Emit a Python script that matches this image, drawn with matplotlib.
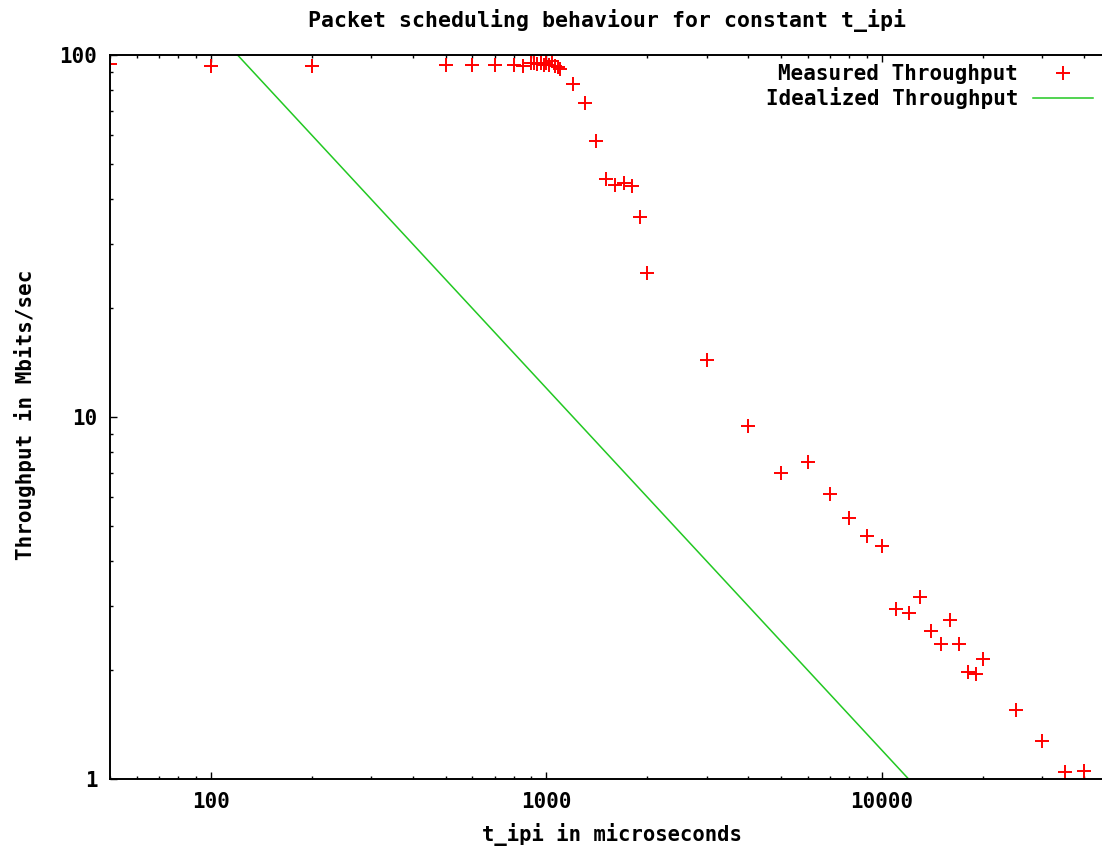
import numpy as np
import matplotlib
matplotlib.use("Agg")
import matplotlib.pyplot as plt
from matplotlib.ticker import LogLocator, FixedLocator, FixedFormatter, NullFormatter

# Measured throughput (t_ipi in microseconds, throughput in Mbits/sec)
t_ipi = [50, 100, 200, 500, 600, 700, 800, 850,
         900, 920, 940, 960, 980, 1000, 1020, 1040, 1060, 1080, 1100,
         1200, 1300, 1400, 1500, 1600, 1700, 1800, 1900, 2000,
         3000, 4000, 5000, 6000, 7000, 8000, 9000, 10000,
         11000, 12000, 13000, 14000, 15000, 16000, 17000, 18000, 19000, 20000,
         25000, 30000, 35000, 40000]
throughput = [94.4, 93.3, 93.3, 94.0, 94.0, 94.0, 94.0, 93.5,
              95.0, 95.0, 94.5, 95.0, 94.0, 95.0, 94.0, 96.0, 93.0, 92.5, 91.5,
              83.2, 73.6, 57.7, 45.4, 43.8, 44.3, 43.4, 35.6, 25.0,
              14.4, 9.44, 7.02, 7.52, 6.12, 5.26, 4.69, 4.39,
              2.94, 2.88, 3.18, 2.57, 2.36, 2.75, 2.36, 1.97, 1.95, 2.14,
              1.55, 1.276, 1.043, 1.052]

# Idealized throughput line (straight on log-log axes)
ideal_t = [120, 1200, 12000]
ideal_tp = [100, 10, 1]

FONT = "DejaVu Sans Mono"

fig = plt.figure(figsize=(11.02, 8.49), dpi=100)
W, H = 1102, 849
ax = fig.add_axes([110 / W, (H - 779) / H, (1116.5 - 110) / W, (779 - 55) / H])

ax.plot(t_ipi, throughput, linestyle="none", marker="+", color="#ff0000",
        markersize=9.5, markeredgewidth=1.4, label="Measured Throughput")
ax.plot(ideal_t, ideal_tp, color="#22c822", linewidth=1.1,
        label="Idealized Throughput")

ax.set_xscale("log")
ax.set_yscale("log")
ax.set_xlim(50, 50000)
ax.set_ylim(1, 100)

ax.xaxis.set_major_locator(FixedLocator([100, 1000, 10000]))
ax.xaxis.set_major_formatter(FixedFormatter(["100", "1000", "10000"]))
ax.xaxis.set_minor_locator(LogLocator(base=10, subs=np.arange(2, 10)))
ax.xaxis.set_minor_formatter(NullFormatter())
ax.yaxis.set_major_locator(FixedLocator([1, 10, 100]))
ax.yaxis.set_major_formatter(FixedFormatter(["1", "10", "100"]))
ax.yaxis.set_minor_locator(LogLocator(base=10, subs=np.arange(2, 10)))
ax.yaxis.set_minor_formatter(NullFormatter())

ax.tick_params(which="both", direction="in", top=True, right=True, width=1.0)
ax.tick_params(which="major", length=5, pad=9)
ax.tick_params(which="minor", length=2.5)
for lbl in ax.get_xticklabels() + ax.get_yticklabels():
    lbl.set_fontfamily(FONT)
    lbl.set_fontweight("bold")
    lbl.set_fontsize(15)
for sp in ax.spines.values():
    sp.set_linewidth(1.4)

fig.text(607 / W, 1 - 20 / H,
         "Packet scheduling behaviour for constant t_ipi",
         ha="center", va="center", family=FONT, weight="bold", fontsize=15.5)
fig.text(612 / W, 1 - 835 / H, "t_ipi in microseconds",
         ha="center", va="center", family=FONT, weight="bold", fontsize=14.8)
fig.text(25 / W, 1 - 415 / H, "Throughput in Mbits/sec", rotation=90,
         ha="center", va="center", family=FONT, weight="bold", fontsize=15)

fig.legend(loc="upper right", bbox_to_anchor=(1093 / W, 1 - 64 / H),
           frameon=False, markerfirst=False, borderpad=0, borderaxespad=0,
           handlelength=2.9, handletextpad=0.7, labelspacing=0.15,
           prop={"family": FONT, "weight": "bold", "size": 15})

fig.savefig("out.png", dpi=100)
